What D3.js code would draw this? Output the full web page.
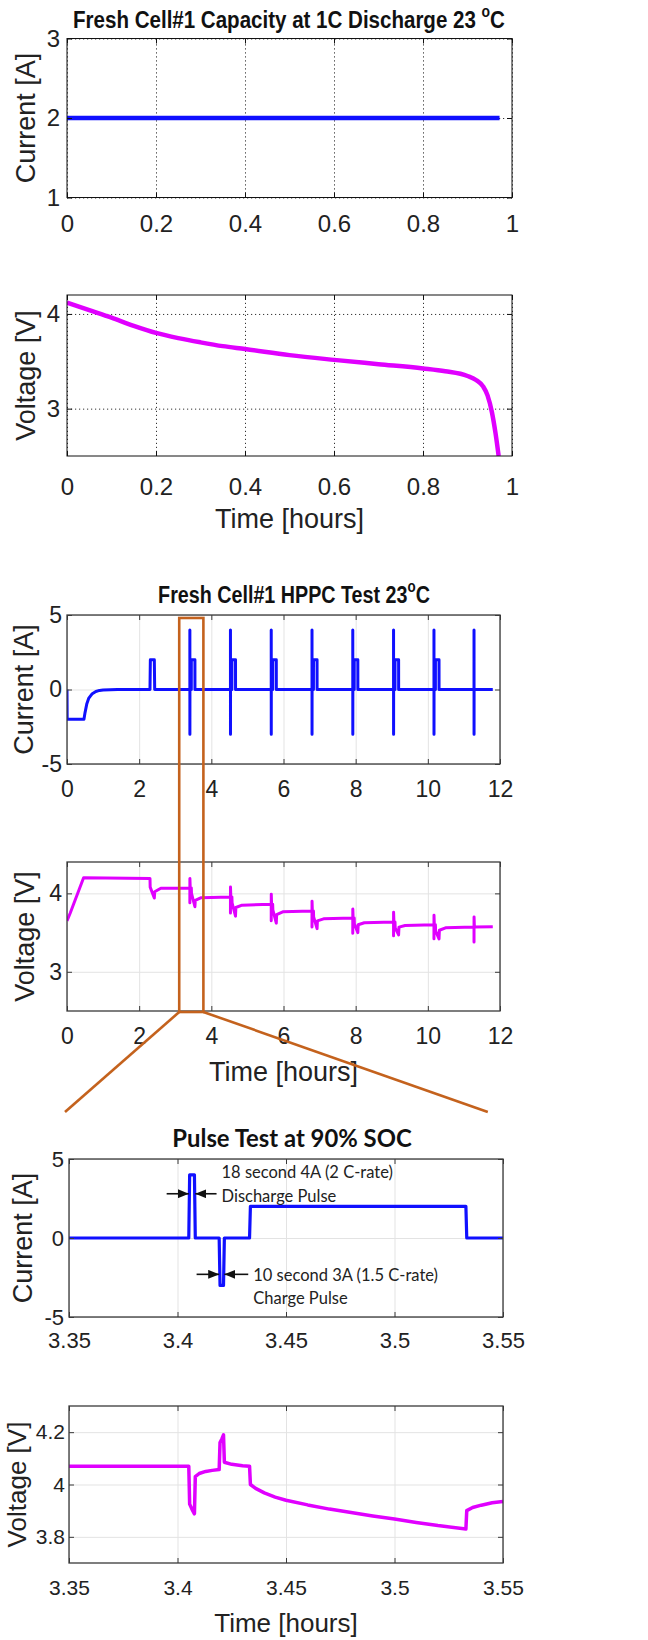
<!DOCTYPE html>
<html>
<head>
<meta charset="utf-8">
<script src="https://cdn.jsdelivr.net/npm/d3@7"></script>
<style>
    body { margin: 0; background: #fff; }
    svg { display: block; }
    .tick text { font-family: "Liberation Sans", Arial, sans-serif; fill: #222; }
    .label { font-family: "Liberation Sans", Arial, sans-serif; fill: #222; }
    .title { font-family: "Liberation Sans", Arial, sans-serif; font-weight: bold; fill: #111; }
    .note { font-family: Lato, "Open Sans", sans-serif; fill: #222; }
</style>
</head>
<body>
<svg width="648" height="1640"></svg>
<script>
// ---- 1C capacity discharge ----
const capTime = [0, 0.2, 0.4, 0.6, 0.8, 0.972];
const capCurrent = [2, 2, 2, 2, 2, 2];
const capVoltTime = [0, 0.05, 0.1, 0.15, 0.2, 0.25, 0.3, 0.35, 0.4, 0.5, 0.6, 0.7, 0.8, 0.85, 0.9, 0.92, 0.935, 0.945, 0.955, 0.963, 0.97];
const capVoltage = [4.12, 4.04, 3.96, 3.875, 3.80, 3.745, 3.70, 3.66, 3.63, 3.565, 3.515, 3.47, 3.425, 3.395, 3.345, 3.30, 3.235, 3.14, 2.96, 2.74, 2.5];

// ---- HPPC test ----
const hppcTime = [
    0, 0.005, 0.47, 0.5, 0.55, 0.6, 0.7, 0.8, 0.9, 1.0, 1.2, 1.4,
    2.30, 2.31, 2.42, 2.43,
    3.405, 3.405, 3.406, 3.407, 3.445, 3.446, 3.545, 3.546,
    4.53, 4.53, 4.531, 4.532, 4.570, 4.571, 4.670, 4.671,
    5.66, 5.66, 5.661, 5.662, 5.700, 5.701, 5.800, 5.801,
    6.79, 6.79, 6.791, 6.792, 6.830, 6.831, 6.930, 6.931,
    7.92, 7.92, 7.921, 7.922, 7.960, 7.961, 8.060, 8.061,
    9.05, 9.05, 9.051, 9.052, 9.090, 9.091, 9.190, 9.191,
    10.17, 10.17, 10.171, 10.172, 10.210, 10.211, 10.310, 10.311,
    11.28, 11.28, 11.281, 11.282, 11.8
];
const hppcCurrent = [
    0, -2, -2, -1.55, -0.95, -0.6, -0.28, -0.13, -0.06, -0.03, -0.01, 0,
    0, 2, 2, 0,
    0, 4, -3, 0, 0, 2, 2, 0,
    0, 4, -3, 0, 0, 2, 2, 0,
    0, 4, -3, 0, 0, 2, 2, 0,
    0, 4, -3, 0, 0, 2, 2, 0,
    0, 4, -3, 0, 0, 2, 2, 0,
    0, 4, -3, 0, 0, 2, 2, 0,
    0, 4, -3, 0, 0, 2, 2, 0,
    0, 4, -3, 0, 0
];
const hppcVoltTime = [
    0, 0.09, 0.46, 2.30, 2.305, 2.42, 2.43, 2.6,
    3.405, 3.405, 3.406, 3.415, 3.445, 3.450, 3.545, 3.555, 3.72,
    4.53, 4.53, 4.531, 4.54, 4.570, 4.575, 4.670, 4.680, 4.85,
    5.66, 5.66, 5.661, 5.67, 5.700, 5.705, 5.800, 5.810, 5.98,
    6.79, 6.79, 6.791, 6.80, 6.830, 6.835, 6.930, 6.940, 7.11,
    7.92, 7.92, 7.921, 7.93, 7.960, 7.965, 8.060, 8.070, 8.24,
    9.05, 9.05, 9.051, 9.06, 9.090, 9.095, 9.190, 9.200, 9.37,
    10.17, 10.17, 10.171, 10.18, 10.210, 10.215, 10.310, 10.320, 10.49,
    11.28, 11.28, 11.281, 11.29, 11.8
];
const hppcVoltage = [
    3.65, 3.75, 4.20, 4.19, 4.08, 3.94, 4.02, 4.065,
    4.07, 3.88, 4.19, 4.07, 4.07, 4.00, 3.83, 3.91, 3.945,
    3.955, 3.75, 4.08, 3.955, 3.955, 3.88, 3.71, 3.82, 3.85,
    3.86, 3.65, 3.99, 3.86, 3.86, 3.79, 3.62, 3.73, 3.765,
    3.775, 3.57, 3.90, 3.775, 3.775, 3.70, 3.55, 3.65, 3.675,
    3.685, 3.49, 3.80, 3.685, 3.685, 3.61, 3.50, 3.60, 3.625,
    3.635, 3.46, 3.76, 3.635, 3.635, 3.56, 3.47, 3.57, 3.59,
    3.60, 3.42, 3.72, 3.60, 3.60, 3.52, 3.42, 3.53, 3.56,
    3.57, 3.38, 3.70, 3.57, 3.575
];

// ---- single pulse at 90% SOC ----
const pulseTime = [3.35, 3.4052, 3.4056, 3.4078, 3.4082, 3.4192, 3.4196, 3.4212, 3.4216, 3.4332, 3.4336, 3.5329, 3.5333, 3.55];
const pulseCurrent = [0, 0, 4, 4, 0, 0, -3, -3, 0, 0, 2, 2, 0, 0];
const pulseVoltTime = [3.35, 3.4052, 3.4056, 3.407, 3.4078, 3.4082, 3.410, 3.413, 3.416, 3.4192, 3.4196, 3.4205, 3.4212, 3.4216, 3.425, 3.43, 3.4332, 3.4336, 3.436, 3.44, 3.445, 3.45, 3.46, 3.47, 3.48, 3.49, 3.5, 3.51, 3.52, 3.5329, 3.5333, 3.536, 3.54, 3.545, 3.55];
const pulseVoltage = [4.07, 4.07, 3.925, 3.90, 3.888, 4.03, 4.042, 4.05, 4.054, 4.057, 4.16, 4.175, 4.19, 4.085, 4.077, 4.072, 4.07, 4.0, 3.985, 3.968, 3.952, 3.94, 3.922, 3.906, 3.893, 3.88, 3.868, 3.855, 3.843, 3.83, 3.90, 3.912, 3.921, 3.93, 3.935];

// ---- axis ticks ----
const capTimeTicks = [0, 0.2, 0.4, 0.6, 0.8, 1];
const capCurrentTicks = [1, 2, 3];
const capVoltTicks = [3, 4];
const hppcTimeTicks = [0, 2, 4, 6, 8, 10, 12];
const hppcCurrentTicks = [-5, 0, 5];
const hppcVoltTicks = [3, 4];
const pulseTimeTicks = [3.35, 3.4, 3.45, 3.5, 3.55];
const pulseCurrentTicks = [-5, 0, 5];
const pulseVoltTicks = [3.8, 4, 4.2];

const BLUE = '#1010ff';
const MAGENTA = '#e000ff';
const ORANGE = '#c4621d';

const svg = d3.select('svg');
const defs = svg.append('defs');
let clipId = 0;

function drawPanel(o) {
    const x = d3.scaleLinear().domain(o.xDomain).range([o.l, o.r]);
    const y = d3.scaleLinear().domain(o.yDomain).range([o.b, o.t]);
    const w = o.r - o.l;
    const h = o.b - o.t;
    const g = svg.append('g');

    const gridStyle = (sel) => {
        sel.select('.domain').remove();
        sel.selectAll('line')
            .attr('stroke', o.gridColor)
            .attr('stroke-width', 1)
            .attr('stroke-dasharray', o.gridDash);
    };

    // grid lines
    g.append('g')
        .attr('transform', `translate(0, ${o.b})`)
        .call(d3.axisBottom(x).tickValues(o.xTicks).tickSize(-h).tickFormat(''))
        .call(gridStyle);
    g.append('g')
        .attr('transform', `translate(${o.l}, 0)`)
        .call(d3.axisLeft(y).tickValues(o.yTicks).tickSize(-w).tickFormat(''))
        .call(gridStyle);

    // data line
    const id = 'clip' + (clipId++);
    defs.append('clipPath').attr('id', id)
        .append('rect').attr('x', o.l).attr('y', o.t).attr('width', w).attr('height', h);

    const line = d3.line()
        .curve(o.curve || d3.curveLinear)
        .x((d) => x(d[0]))
        .y((d) => y(d[1]));
    g.append('path')
        .datum(d3.zip(o.xs, o.ys))
        .attr('clip-path', `url(#${id})`)
        .attr('d', line)
        .attr('fill', 'none')
        .attr('stroke', o.color)
        .attr('stroke-width', o.lw)
        .attr('stroke-linejoin', 'round');

    // box + inward ticks on all sides
    const tickStyle = (sel) => {
        sel.select('.domain').remove();
        sel.selectAll('line').attr('stroke', o.axisColor);
        sel.selectAll('text').style('font-size', o.tickFont + 'px');
    };
    g.append('g')
        .attr('transform', `translate(0, ${o.b})`)
        .call(d3.axisBottom(x).tickValues(o.xTicks).tickSizeInner(-5).tickSizeOuter(0)
            .tickPadding(o.xPad).tickFormat((d) => String(d)))
        .call(tickStyle);
    g.append('g')
        .attr('transform', `translate(0, ${o.t})`)
        .call(d3.axisTop(x).tickValues(o.xTicks).tickSizeInner(-5).tickSizeOuter(0).tickFormat(''))
        .call(tickStyle);
    g.append('g')
        .attr('transform', `translate(${o.l}, 0)`)
        .call(d3.axisLeft(y).tickValues(o.yTicks).tickSizeInner(-5).tickSizeOuter(0)
            .tickPadding(o.yPad).tickFormat((d) => String(d)))
        .call(tickStyle);
    g.append('g')
        .attr('transform', `translate(${o.r}, 0)`)
        .call(d3.axisRight(y).tickValues(o.yTicks).tickSizeInner(-5).tickSizeOuter(0).tickFormat(''))
        .call(tickStyle);

    g.append('rect')
        .attr('x', o.l).attr('y', o.t)
        .attr('width', w).attr('height', h)
        .attr('fill', 'none')
        .attr('stroke', o.axisColor)
        .attr('stroke-width', o.boxWidth);

    // axis labels
    g.append('text')
        .attr('class', 'label')
        .attr('transform', `translate(${o.yLabelX}, ${(o.t + o.b) / 2}) rotate(-90)`)
        .attr('text-anchor', 'middle')
        .style('font-size', o.labelFont + 'px')
        .text(o.yLabel);

    if (o.xLabel) {
        g.append('text')
            .attr('class', 'label')
            .attr('x', (o.l + o.r) / 2)
            .attr('y', o.xLabelY)
            .attr('text-anchor', 'middle')
            .style('font-size', o.labelFont + 'px')
            .text(o.xLabel);
    }
    return { x, y };
}

// title with a superscript degree "o", squeezed to the reference width
function drawTitle(parts, cx, baseline, size, width, font, weight) {
    const g = svg.append('g');
    const t = g.append('text')
        .attr('class', 'title')
        .attr('text-anchor', 'middle')
        .style('font-size', size + 'px')
        .style('font-family', font)
        .style('font-weight', weight);
    t.append('tspan').text(parts[0]);
    if (parts.length > 1) {
        t.append('tspan').attr('dy', -size * 0.45).style('font-size', (size * 0.68) + 'px').text(parts[1]);
        t.append('tspan').attr('dy', size * 0.45).text(parts[2]);
    }
    const bw = t.node().getBBox().width;
    g.attr('transform', `translate(${cx}, ${baseline}) scale(${width / bw}, 1)`);
}

const topStyle = {
    gridColor: '#333', gridDash: '1.2,2.8', axisColor: '#111', boxWidth: 1,
    tickFont: 24, labelFont: 27, xPad: 17, yPad: 7,
};
const lowStyle = {
    gridColor: '#e3e3e3', gridDash: null, axisColor: '#3a3a3a', boxWidth: 1.3,
    tickFont: 23, labelFont: 27, xPad: 17, yPad: 5,
};

// ---- panel 1 & 2 ----
drawPanel(Object.assign({}, topStyle, {
    l: 67, r: 512, t: 38.5, b: 197.5,
    xDomain: [0, 1], yDomain: [1, 3], xTicks: capTimeTicks, yTicks: capCurrentTicks,
    xs: capTime, ys: capCurrent, color: BLUE, lw: 4.5,
    yLabel: 'Current [A]', yLabelX: 35,
}));
drawTitle(['Fresh Cell#1 Capacity at 1C Discharge 23 ', 'o', 'C'], 289, 28, 24, 432,
    '"Liberation Sans", Arial, sans-serif', 'bold');

drawPanel(Object.assign({}, topStyle, {
    l: 67, r: 512, t: 295, b: 456,
    xDomain: [0, 1], yDomain: [2.5, 4.2], xTicks: capTimeTicks, yTicks: capVoltTicks,
    xs: capVoltTime, ys: capVoltage, color: MAGENTA, lw: 4.5, curve: d3.curveMonotoneX,
    yLabel: 'Voltage [V]', yLabelX: 35, xPad: 22,
    xLabel: 'Time [hours]', xLabelY: 528,
}));

// ---- panel 3 & 4 ----
const p3 = drawPanel(Object.assign({}, lowStyle, {
    l: 67, r: 500, t: 615, b: 764,
    xDomain: [0, 12], yDomain: [-5, 5], xTicks: hppcTimeTicks, yTicks: hppcCurrentTicks,
    xs: hppcTime, ys: hppcCurrent, color: BLUE, lw: 3,
    yLabel: 'Current [A]', yLabelX: 33,
}));
drawTitle(['Fresh Cell#1 HPPC Test 23', 'o', 'C'], 294, 603, 24, 272,
    '"Liberation Sans", Arial, sans-serif', 'bold');

const p4 = drawPanel(Object.assign({}, lowStyle, {
    l: 67, r: 500, t: 862, b: 1011,
    xDomain: [0, 12], yDomain: [2.5, 4.4], xTicks: hppcTimeTicks, yTicks: hppcVoltTicks,
    xs: hppcVoltTime, ys: hppcVoltage, color: MAGENTA, lw: 3,
    yLabel: 'Voltage [V]', yLabelX: 34,
    xLabel: 'Time [hours]', xLabelY: 1081,
}));

// ---- panel 5 & 6 ----
const p5 = drawPanel(Object.assign({}, lowStyle, {
    l: 69, r: 503, t: 1159, b: 1317,
    xDomain: [3.35, 3.55], yDomain: [-5, 5], xTicks: pulseTimeTicks, yTicks: pulseCurrentTicks,
    xs: pulseTime, ys: pulseCurrent, color: BLUE, lw: 3.2,
    yLabel: 'Current [A]', yLabelX: 32, xPad: 15, tickFont: 22,
}));
drawTitle(['Pulse Test at 90% SOC'], 292, 1147, 25, 240, 'Lato, "Open Sans", sans-serif', 'bold');

drawPanel(Object.assign({}, lowStyle, {
    l: 69, r: 503, t: 1406, b: 1563,
    xDomain: [3.35, 3.55], yDomain: [3.7, 4.3], xTicks: pulseTimeTicks, yTicks: pulseVoltTicks,
    xs: pulseVoltTime, ys: pulseVoltage, color: MAGENTA, lw: 3.5,
    yLabel: 'Voltage [V]', yLabelX: 26, labelFont: 26, tickFont: 21, yPad: 4,
    xLabel: 'Time [hours]', xLabelY: 1632,
}));

// ---- zoom box linking HPPC to the single pulse ----
const zoomStart = 3.11;
const zoomEnd = 3.78;
const zx0 = p3.x(zoomStart);
const zx1 = p3.x(zoomEnd);
const zTop = p3.y(4.8);
const zBot = p4.y(2.5) + 1;
const zEndY = 1112;

svg.append('rect')
    .attr('x', zx0).attr('y', zTop)
    .attr('width', zx1 - zx0).attr('height', zBot - zTop)
    .attr('fill', 'none').attr('stroke', ORANGE).attr('stroke-width', 2.6);
svg.append('line')
    .attr('x1', zx0).attr('y1', zBot).attr('x2', p5.x(3.35) - 4).attr('y2', zEndY)
    .attr('stroke', ORANGE).attr('stroke-width', 2.6);
svg.append('line')
    .attr('x1', zx1).attr('y1', zBot).attr('x2', p5.x(3.543)).attr('y2', zEndY)
    .attr('stroke', ORANGE).attr('stroke-width', 2.6);

// ---- pulse annotations ----
defs.append('marker')
    .attr('id', 'head')
    .attr('markerUnits', 'userSpaceOnUse')
    .attr('markerWidth', 11).attr('markerHeight', 9)
    .attr('refX', 11).attr('refY', 4.5)
    .attr('orient', 'auto')
    .append('path').attr('d', 'M0,0 L11,4.5 L0,9 Z').attr('fill', '#111');

const arrows = [
    [3.395, 3.4052, 2.8], [3.418, 3.4082, 2.8],
    [3.4088, 3.4192, -2.3], [3.4326, 3.4216, -2.3],
];
arrows.forEach(([a, b, v]) => {
    svg.append('line')
        .attr('x1', p5.x(a)).attr('y1', p5.y(v))
        .attr('x2', p5.x(b)).attr('y2', p5.y(v))
        .attr('stroke', '#111').attr('stroke-width', 1.6)
        .attr('marker-end', 'url(#head)');
});

const notes = [
    [3.4203, 3.8, '18 second 4A (2 C-rate)'],
    [3.4203, 2.3, 'Discharge Pulse'],
    [3.4349, -2.7, '10 second 3A (1.5 C-rate)'],
    [3.4349, -4.2, 'Charge Pulse'],
];
notes.forEach(([t, v, s]) => {
    svg.append('text')
        .attr('class', 'note')
        .attr('x', p5.x(t)).attr('y', p5.y(v))
        .style('font-size', '16.5px')
        .text(s);
});
</script>
</body>
</html>
